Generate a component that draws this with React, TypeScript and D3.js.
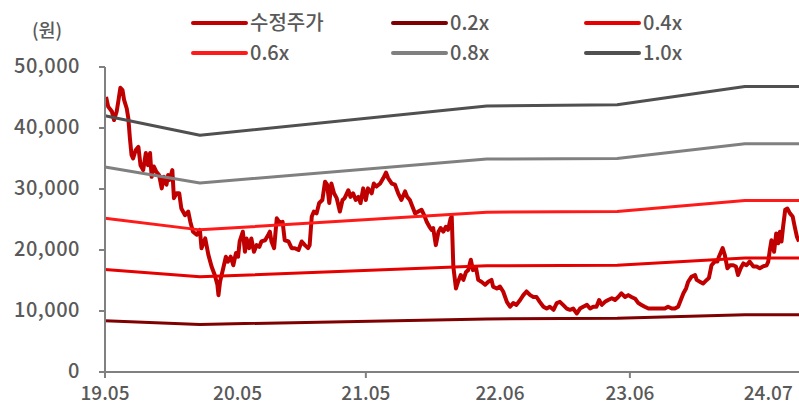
import React from "react";
import * as d3 from "d3";

// Trading-day index of each sample and adjusted price (원)
const priceIdx = [2, 6, 13, 17, 22, 25, 29, 33, 36, 41, 44, 47, 50, 53, 58, 63, 67, 72, 77, 81, 85, 88, 92, 97, 102, 107, 111, 116, 119, 122, 127, 130, 135, 140, 144, 151, 157, 161, 166, 173, 179, 182, 189, 195, 201, 207, 212, 214, 217, 223, 228, 232, 237, 242, 247, 251, 254, 260, 264, 267, 272, 276, 281, 286, 291, 295, 302, 308, 311, 314, 319, 324, 330, 335, 339, 346, 352, 358, 365, 371, 377, 383, 386, 390, 394, 399, 404, 410, 415, 419, 423, 427, 432, 437, 443, 448, 452, 459, 463, 468, 473, 478, 482, 487, 492, 496, 503, 507, 512, 519, 525, 530, 534, 541, 547, 553, 559, 566, 570, 575, 580, 585, 591, 597, 602, 607, 612, 616, 619, 624, 629, 633, 638, 643, 647, 652, 654, 657, 662, 666, 671, 676, 681, 685, 690, 694, 700, 704, 710, 717, 723, 729, 732, 739, 745, 751, 758, 764, 770, 776, 783, 789, 795, 802, 808, 814, 820, 827, 833, 839, 846, 852, 858, 864, 871, 877, 883, 890, 896, 902, 909, 915, 921, 927, 932, 937, 943, 949, 956, 962, 968, 974, 981, 987, 993, 1000, 1006, 1012, 1018, 1025, 1031, 1037, 1043, 1050, 1056, 1062, 1069, 1075, 1081, 1086, 1091, 1096, 1100, 1106, 1113, 1116, 1122, 1128, 1135, 1139, 1144, 1150, 1155, 1158, 1165, 1169, 1174, 1179, 1185, 1190, 1194, 1199, 1204, 1210, 1216, 1223, 1229, 1235, 1241, 1248, 1251, 1254, 1257, 1262, 1266, 1270, 1273, 1276, 1279, 1283, 1287, 1292, 1297, 1301, 1305, 1309];
const priceVal = [45100, 43500, 42700, 41300, 42700, 44300, 46600, 46200, 44600, 43200, 41600, 38300, 35600, 35000, 36400, 36900, 33900, 33100, 35900, 33900, 35900, 32000, 33700, 32800, 32300, 30100, 32000, 30700, 32300, 31500, 33100, 28500, 29300, 29300, 26800, 25700, 26300, 24600, 23000, 22500, 23300, 20300, 21900, 19200, 17300, 15900, 14300, 12600, 14800, 17000, 18900, 18100, 18900, 17500, 19500, 18900, 21400, 23000, 19700, 21900, 20300, 21900, 19700, 20800, 20500, 21400, 21600, 22500, 23000, 21400, 20300, 25200, 24400, 24600, 21600, 21400, 20300, 20300, 20000, 21400, 20800, 20300, 20800, 25500, 26300, 26000, 27700, 28200, 31200, 30700, 27700, 30900, 29300, 28500, 26300, 28200, 28500, 29800, 28700, 29300, 28200, 28700, 27700, 30100, 28200, 30100, 29300, 30900, 30400, 30900, 31800, 32700, 31800, 30900, 30700, 29300, 28200, 29600, 28700, 28200, 27100, 26000, 26300, 26600, 25700, 24600, 23800, 23300, 23600, 20800, 23000, 23600, 23000, 23800, 23300, 25200, 25500, 17300, 13700, 14800, 15900, 15100, 16400, 16700, 18400, 16700, 17000, 15100, 14800, 14300, 14800, 15100, 14000, 13700, 14000, 13200, 11500, 10700, 11300, 11000, 11800, 12600, 13200, 12600, 12300, 12300, 11500, 10700, 10400, 10700, 10200, 11300, 11500, 11000, 10400, 10200, 10400, 9600, 10400, 10700, 11000, 10400, 10700, 10700, 11800, 11000, 11500, 11800, 12100, 11800, 12300, 12900, 12300, 12600, 12300, 12000, 11300, 11000, 10700, 10400, 10400, 10400, 10400, 10400, 10400, 10700, 10400, 10400, 10700, 11800, 12900, 13700, 14800, 15600, 15900, 15100, 14800, 14500, 15100, 15400, 17500, 18100, 18100, 18900, 20300, 19200, 17000, 17500, 17500, 17300, 15900, 17000, 17800, 17500, 18100, 17300, 17300, 17000, 17300, 17500, 18100, 20000, 21600, 19700, 22700, 21100, 23000, 21400, 23800, 26600, 26800, 26000, 25500, 23800, 22200, 21400];

// Valuation band breakpoints (trading-day index) and values per multiple
const bandIdx = [0, 179, 720, 966, 1207, 1309];
const band02 = [8400, 7800, 8700, 8800, 9400, 9400];
const band04 = [16800, 15600, 17400, 17500, 18700, 18700];
const band06 = [25200, 23300, 26200, 26300, 28100, 28100];
const band08 = [33600, 31000, 34900, 35000, 37400, 37400];
const band10 = [42000, 38800, 43600, 43800, 46800, 46800];

const xLabels = ["19.05", "20.05", "21.05", "22.06", "23.06", "24.07"];
const xLabelIdx = [0, 250, 492, 745, 990, 1251];
const xTickIdx = [0, 492, 990];
const yTicks = [0, 10000, 20000, 30000, 40000, 50000];

const lastIdx = 1309;

const W = 799;
const H = 405;
const FONT = "'Noto Sans CJK KR', 'Noto Sans', sans-serif";
const TXT = "#595959";
const AXIS = "#808080";

export default function App() {
  const x = d3.scaleLinear().domain([0, lastIdx]).range([105, 799]);
  const y = d3.scaleLinear().domain([0, 50000]).range([372, 67]);

  const priceLine = d3
    .line<number>()
    .x((_, i) => x(priceIdx[i]))
    .y((d) => y(d));

  const bandLine = d3
    .line<number>()
    .x((_, i) => x(bandIdx[i]))
    .y((d) => y(d));

  const bands = [
    { name: "0.2x", vals: band02, color: "#7F0000" },
    { name: "0.4x", vals: band04, color: "#E60000" },
    { name: "0.6x", vals: band06, color: "#FF1A1A" },
    { name: "0.8x", vals: band08, color: "#808080" },
    { name: "1.0x", vals: band10, color: "#505050" },
  ];

  const legend = [
    { name: "수정주가", color: "#C00000", lx: 193, ly: 23 },
    { name: "0.2x", color: "#7F0000", lx: 393, ly: 23 },
    { name: "0.4x", color: "#E60000", lx: 586, ly: 23 },
    { name: "0.6x", color: "#FF1A1A", lx: 193, ly: 53 },
    { name: "0.8x", color: "#808080", lx: 393, ly: 53 },
    { name: "1.0x", color: "#505050", lx: 586, ly: 53 },
  ];

  const fmt = d3.format(",");

  return (
    <svg
      width={W}
      height={H}
      style={{ position: "absolute", left: 0, top: 0, display: "block" }}
      fontFamily={FONT}
    >
      <rect width={W} height={H} fill="#fff" />

      {/* unit label */}
      <text x={47} y={37} textAnchor="middle" fontSize={18.5} fill={TXT} fontWeight={500}>
        (원)
      </text>

      {/* legend */}
      {legend.map((l) => (
        <g key={l.name}>
          <line
            x1={l.lx}
            x2={l.lx + 53}
            y1={l.ly}
            y2={l.ly}
            stroke={l.color}
            strokeWidth={4}
            strokeLinecap="round"
          />
          <text x={l.lx + 57} y={l.ly + 6.5} fontSize={20} fill={TXT} fontWeight={500}>
            {l.name}
          </text>
        </g>
      ))}

      {/* price */}
      <path
        d={priceLine(priceVal) || ""}
        fill="none"
        stroke="#C00000"
        strokeWidth={4}
        strokeLinejoin="round"
      />

      {/* bands */}
      {bands.map((b) => (
        <path
          key={b.name}
          d={bandLine(b.vals) || ""}
          fill="none"
          stroke={b.color}
          strokeWidth={3}
          strokeLinejoin="round"
        />
      ))}

      {/* y axis */}
      <line x1={105} x2={105} y1={y(50000)} y2={378} stroke={AXIS} strokeWidth={2} />
      {yTicks.map((t) => (
        <g key={t}>
          <line x1={99} x2={105} y1={y(t)} y2={y(t)} stroke={AXIS} strokeWidth={2} />
          <text
            x={80}
            y={y(t) + 5.5}
            textAnchor="end"
            fontSize={20}
            letterSpacing={0.5}
            fill={TXT}
            fontWeight={500}
          >
            {fmt(t)}
          </text>
        </g>
      ))}

      {/* x axis */}
      <line x1={99} x2={799} y1={372} y2={372} stroke={AXIS} strokeWidth={2} />
      {xTickIdx.map((t) => (
        <line key={t} x1={x(t)} x2={x(t)} y1={372} y2={378} stroke={AXIS} strokeWidth={2} />
      ))}
      {xLabels.map((lab, i) => (
        <text
          key={lab}
          x={x(xLabelIdx[i])}
          y={400}
          textAnchor="middle"
          fontSize={19}
          fill={TXT}
          fontWeight={500}
        >
          {lab}
        </text>
      ))}
    </svg>
  );
}
